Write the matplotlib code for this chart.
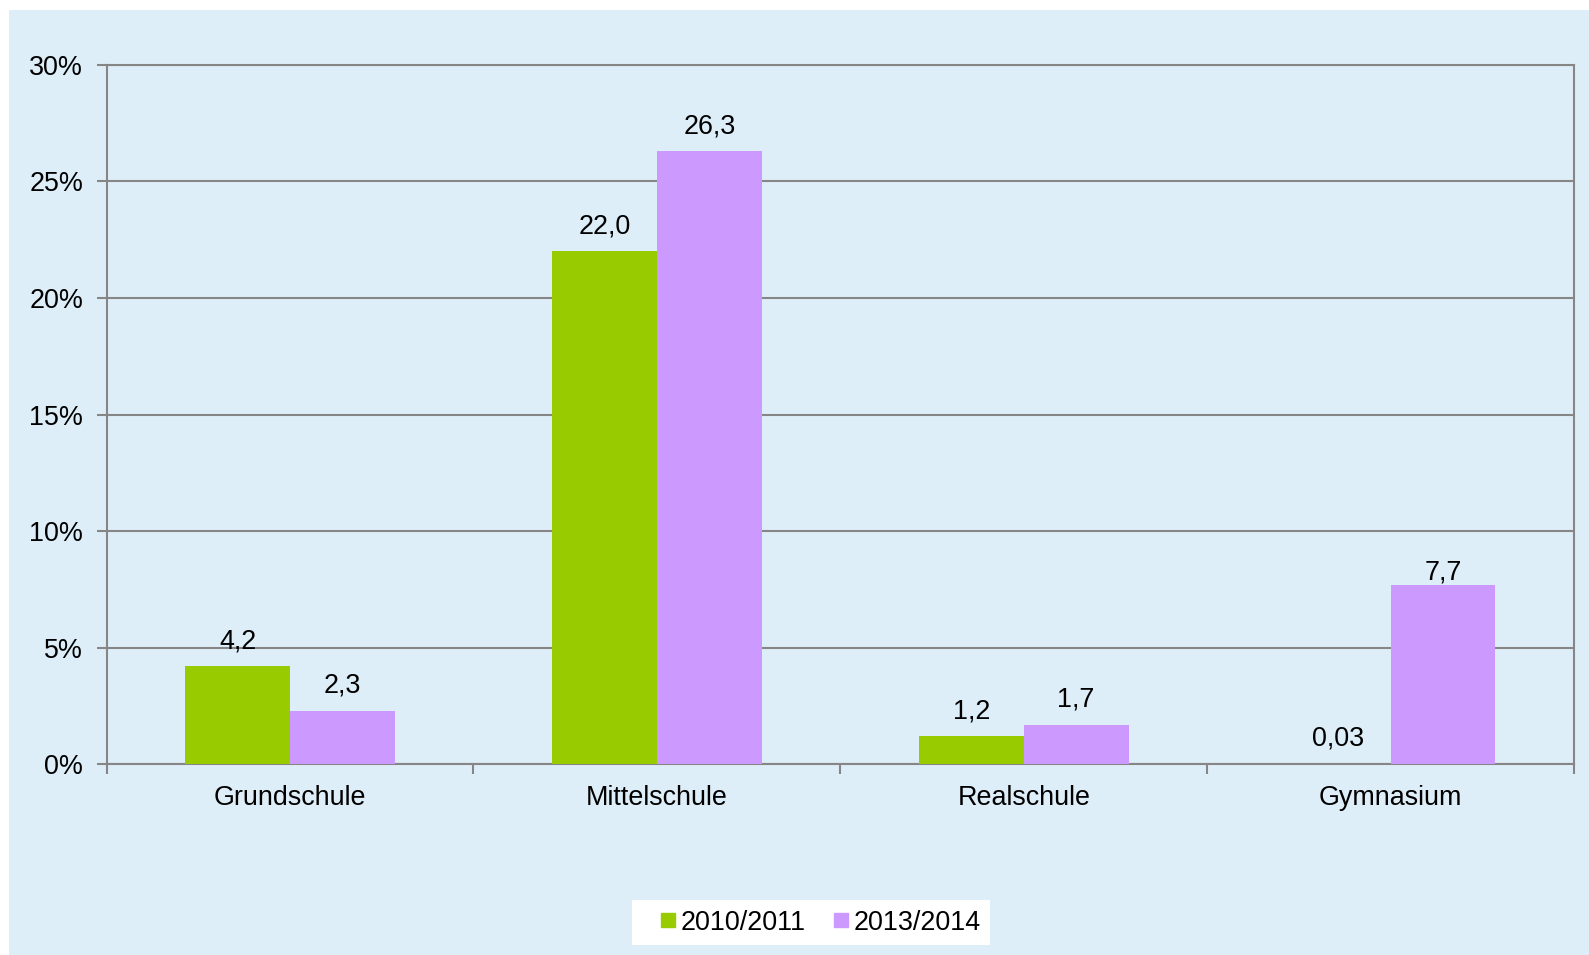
import numpy as np
import matplotlib
matplotlib.use("Agg")
import matplotlib.pyplot as plt
from matplotlib.lines import Line2D
from matplotlib.ticker import FuncFormatter

plt.rcParams['font.family'] = ['Liberation Sans', 'DejaVu Sans']

# --- DATA ---
categories = ["Grundschule", "Mittelschule", "Realschule", "Gymnasium"]
series_names = ["2010/2011", "2013/2014"]
values_2010 = [4.2, 22.0, 1.2, 0.03]
values_2013 = [2.3, 26.3, 1.7, 7.7]
labels_2010 = ["4,2", "22,0", "1,2", "0,03"]
labels_2013 = ["2,3", "26,3", "1,7", "7,7"]

GREEN = "#99CC00"
PURPLE = "#CC99FF"
BG = "#DEEEF8"
GRID = "#868686"
FS = 19.4

fig = plt.figure(figsize=(15.89, 9.55), dpi=100, facecolor="white")
fig.patches.append(plt.Rectangle((9 / 1589, 0), 1, 1 - 10 / 955, transform=fig.transFigure,
                                 facecolor=BG, edgecolor="none", zorder=-10))

ax = fig.add_axes([0.0671, 0.1997, 0.9235, 0.7323])
ax.set_facecolor(BG)

x = np.arange(len(categories))
w = 1 / 3.5
ax.bar(x - w / 2, values_2010, width=w, color=GREEN, zorder=3)
ax.bar(x + w / 2, values_2013, width=w, color=PURPLE, zorder=3)

# label offsets in points (Excel pushed the last one down)
off_2010 = [13, 13, 13, 13]
off_2013 = [13, 13, 13, 4]
for xi, v, lab, dy in zip(x - w / 2, values_2010, labels_2010, off_2010):
    ax.annotate(lab, (xi, v), xytext=(0, dy), textcoords="offset points",
                ha="center", va="baseline", fontsize=FS, zorder=4)
for xi, v, lab, dy in zip(x + w / 2, values_2013, labels_2013, off_2013):
    ax.annotate(lab, (xi, v), xytext=(0, dy), textcoords="offset points",
                ha="center", va="baseline", fontsize=FS, zorder=4)

ax.set_xlim(-0.5, len(categories) - 0.5)
ax.set_ylim(0, 30)
ax.set_yticks(np.arange(0, 31, 5))
ax.yaxis.set_major_formatter(FuncFormatter(lambda v, _: f"{int(v)}%"))
ax.grid(axis="y", color=GRID, linewidth=1.5, zorder=1)

# category labels between boundary ticks
ax.set_xticks(np.arange(-0.5, len(categories)), minor=False)
ax.set_xticklabels([])
ax.set_xticks(x, minor=True)
ax.set_xticklabels(categories, minor=True, fontsize=FS)
ax.tick_params(axis="x", which="minor", length=0, pad=15)
ax.tick_params(axis="x", which="major", length=7, width=1.5, color=GRID)
ax.tick_params(axis="y", length=7, width=1.5, color=GRID, labelsize=FS, pad=10)

for side in ["left", "right", "bottom", "top"]:
    ax.spines[side].set_color(GRID)
    ax.spines[side].set_linewidth(1.5)

handles = [Line2D([], [], marker="s", linestyle="none", markersize=9.5, color=c)
           for c in (GREEN, PURPLE)]
leg = fig.legend(handles, series_names, loc="center", bbox_to_anchor=(0.5105, 0.0338),
                 ncol=2, fontsize=FS, frameon=True, fancybox=False, handletextpad=-0.52,
                 columnspacing=0.31, borderpad=0.35, handlelength=1.97)
leg.get_frame().set_facecolor("white")
leg.get_frame().set_edgecolor("none")
leg.get_frame().set_alpha(1)

fig.savefig("out.png", dpi=100, facecolor=fig.get_facecolor())
